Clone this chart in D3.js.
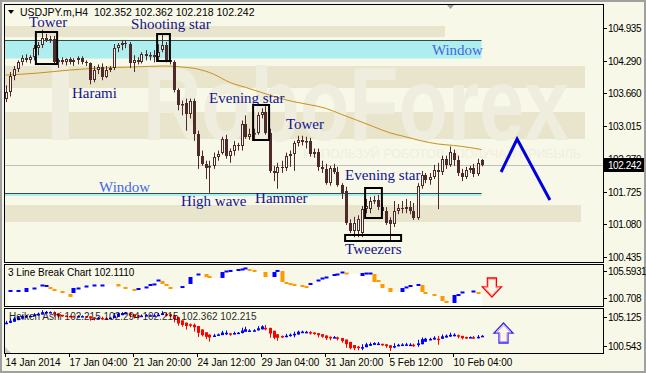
<!DOCTYPE html>
<html><head><meta charset="utf-8">
<script src="https://cdn.jsdelivr.net/npm/d3@7"></script>
<style>body{margin:0;background:#f8f8e8;}svg{display:block;}</style>
</head><body><svg id="c" width="646" height="373"></svg>
<script>
// ---------------- DATA ----------------
const symbol = "USDJPY.m,H4";
const headerValues = ["102.352", "102.362", "102.218", "102.242"];
const opens = [103.55,103.67,103.99,104.13,104.26,104.34,104.30,104.36,104.54,104.60,104.74,104.70,104.72,104.26,104.30,104.26,104.32,104.26,104.30,104.34,
104.26,104.24,103.91,104.11,104.17,103.97,104.11,104.15,104.54,104.60,104.64,104.62,104.24,104.30,104.26,104.42,104.38,104.40,104.36,104.50,
104.60,104.30,104.26,103.71,103.42,103.47,103.24,103.51,102.86,102.43,102.27,102.21,102.23,102.41,102.49,102.76,102.43,102.53,102.63,102.61,
103.06,102.80,102.86,102.88,103.22,103.28,102.88,102.13,102.09,102.21,102.19,102.43,102.47,102.68,102.74,102.70,102.72,102.47,102.51,102.21,
102.17,101.89,102.19,102.11,101.86,101.74,101.11,100.95,100.95,100.91,101.38,101.38,101.54,101.56,101.42,101.34,101.17,101.09,101.34,101.40,
101.38,101.42,101.34,101.20,101.84,102.05,101.95,102.01,102.15,102.11,102.37,102.25,102.49,102.35,102.09,102.01,102.15,102.19,102.07,102.352];
const highs = [103.81,104.07,104.19,104.30,104.40,104.42,104.40,104.60,104.66,104.90,104.82,104.78,104.78,104.34,104.36,104.34,104.36,104.34,104.38,104.38,
104.30,104.26,104.19,104.22,104.24,104.19,104.19,104.62,104.64,104.70,104.70,104.66,104.40,104.36,104.46,104.50,104.46,104.50,104.62,104.80,
104.66,104.34,104.30,103.75,103.51,103.55,103.55,103.55,102.92,102.53,102.33,102.33,102.49,102.53,102.80,102.84,102.57,102.72,102.68,103.12,
103.22,102.96,102.96,103.28,103.36,103.40,102.96,102.23,102.29,102.33,102.49,102.53,102.72,102.82,102.82,102.80,102.78,102.57,102.57,102.33,
102.27,102.23,102.27,102.21,101.89,101.82,101.18,101.23,101.26,101.44,101.58,101.62,101.64,101.66,101.48,101.42,101.22,101.54,101.48,101.54,
101.58,101.54,101.50,101.89,102.13,102.09,102.09,102.25,102.29,102.43,102.43,102.61,102.55,102.43,102.17,102.21,102.23,102.27,102.37,102.362];
const lows = [103.48,103.59,103.91,104.07,104.20,104.26,104.24,104.30,104.40,104.54,104.66,104.64,104.22,104.15,104.22,104.20,104.22,104.19,104.22,104.22,
104.19,103.83,103.87,104.03,103.91,103.95,104.07,104.11,104.46,104.50,104.54,104.15,104.07,104.22,104.24,104.30,104.30,104.26,104.30,104.46,
104.26,104.22,103.67,103.32,103.22,102.92,103.16,102.72,102.17,102.23,101.97,101.70,102.17,102.33,102.45,102.37,102.29,102.43,102.53,102.53,
102.76,102.74,102.72,102.84,103.16,102.84,102.09,101.93,101.78,102.09,102.13,102.21,102.13,102.61,102.63,102.57,102.41,102.39,102.13,102.09,
101.86,101.84,102.07,101.82,101.58,101.07,100.91,100.83,100.83,100.83,101.30,101.30,101.48,101.36,101.26,101.07,100.75,101.03,101.28,101.30,
101.30,101.28,101.17,101.17,101.78,101.89,101.86,101.97,101.38,102.05,102.17,102.21,102.23,102.03,101.93,101.97,102.09,102.01,102.03,102.218];
const closes = [103.67,103.99,104.13,104.26,104.34,104.30,104.36,104.54,104.60,104.74,104.70,104.72,104.26,104.30,104.26,104.32,104.26,104.30,104.34,104.26,
104.24,103.91,104.11,104.17,103.97,104.11,104.15,104.54,104.60,104.64,104.62,104.24,104.30,104.26,104.42,104.38,104.40,104.36,104.46,104.60,
104.30,104.26,103.71,103.42,103.45,103.24,103.51,102.86,102.43,102.27,102.19,102.23,102.41,102.47,102.76,102.43,102.53,102.63,102.61,103.06,
102.80,102.86,102.88,103.22,103.28,102.88,102.13,102.09,102.21,102.19,102.43,102.47,102.68,102.74,102.70,102.72,102.47,102.51,102.21,102.17,
101.89,102.19,102.11,101.86,101.70,101.11,100.95,101.11,101.18,101.38,101.44,101.54,101.56,101.42,101.34,101.11,101.09,101.34,101.40,101.38,
101.42,101.34,101.20,101.84,102.05,101.95,102.01,102.15,102.11,102.37,102.25,102.51,102.35,102.09,102.01,102.15,102.19,102.07,102.29,102.242];

// moving average (read at knots)
const maBars   = [0, 8, 16, 24, 32, 40, 44, 48, 52, 56, 60, 64, 68, 72, 76, 80, 84, 88, 92, 96, 100, 104, 108, 112, 116, 119];
const maValues = [104.01,104.05,104.11,104.15,104.17,104.19,104.17,104.13,104.03,103.87,103.77,103.67,103.57,103.49,103.43,103.36,103.24,103.12,103.00,102.88,102.80,102.72,102.66,102.63,102.59,102.55];

const priceTicks = [104.935, 104.290, 103.660, 103.015, 102.370, 101.725, 101.080, 100.435];
const lastPrice = 102.242;

const dateBars   = [0, 16, 32, 48, 64, 80, 96, 112];
const dateLabels = ["14 Jan 2014", "17 Jan 04:00", "21 Jan 20:00", "24 Jan 12:00", "29 Jan 04:00", "31 Jan 20:00", "5 Feb 12:00", "10 Feb 04:00"];

// chart patterns
const patternNames  = ["Tower", "Shooting star", "Harami", "Evening star", "Tower", "Window", "Window", "High wave", "Hammer", "Evening star", "Tweezers"];
const patternBars   = [5.9, 31.4, 16.6, 50.9, 70.1, 106.6, 23.4, 43.9, 62.4, 84.9, 84.9];
const patternPrices = [104.955, 104.915, 103.561, 103.463, 102.953, 104.405, 101.717, 101.442, 101.501, 101.952, 100.50];
const boxBarFrom = [7.6, 37.9, 61.9, 89.9, 84.9];
const boxBarTo   = [12.9, 41.1, 65.9, 94.1, 98.9];
const boxHigh    = [104.856, 104.817, 103.424, 101.795, 100.873];
const boxLow     = [104.228, 104.287, 102.737, 101.206, 100.755];
// gap zones ("Window")
const windowTop    = [104.699, 101.697];
const windowBottom = [104.336, 101.638];
const windowEndBar = 119;
// forecast zig-zag
const forecastBars   = [123.9, 127.9, 136.1];
const forecastPrices = [102.109, 102.757, 101.560];

// 3 Line Break
const lbTitle = "3 Line Break Chart 102.1110";
const lbRange = [100.708, 105.5931];
const lbAxisLabels = ["105.5931", "100.708"];
const lbBars   = [1,3,5,7,9,10,11,12,14,16,17,18,20,22,24,28,30,32,33,35,36,37,38,39,40,41,44,46,48,50,51,54,55,56,58,59,60,61,62,65,67,68,69,70,71,72,74,75,76,78,79,80,82,83,84,85,89,90,91,92,93,94,96,99,100,101,103,104,105,107,109,110,112,113,114,117,118];
const lbOpens  = [102.34,102.45,102.34,102.69,103.09,103.09,102.92,102.69,102.45,102.10,102.22,102.69,102.92,103.09,103.09,103.27,102.92,102.69,102.57,102.80,103.03,103.15,103.67,103.62,103.27,102.92,102.80,103.27,104.31,104.43,104.20,103.97,104.72,104.78,104.90,104.95,105.07,105.01,104.90,104.66,104.08,104.78,104.78,103.50,103.38,103.27,103.15,103.03,103.21,103.67,103.91,104.02,104.31,104.37,104.60,104.60,104.20,104.55,104.49,104.43,103.73,103.27,102.80,102.34,102.86,103.03,103.15,103.15,102.34,102.10,101.87,101.29,101.06,101.99,102.28,102.40,102.34];
const lbCloses = [102.57,102.57,102.80,102.86,103.21,103.15,102.69,102.45,102.22,101.76,102.80,102.86,103.09,103.21,103.21,102.98,102.74,102.51,102.80,102.98,103.27,103.33,103.79,103.27,103.09,102.74,103.03,104.08,104.49,104.08,103.97,104.66,104.84,104.90,105.01,105.07,105.19,104.84,104.78,104.08,104.66,104.90,103.50,103.38,103.27,103.15,103.03,102.92,103.38,103.79,104.02,104.14,104.43,104.49,104.72,104.43,104.55,104.60,104.60,103.50,103.50,102.80,102.34,102.80,102.98,103.15,103.27,102.34,102.16,101.93,101.29,101.06,101.99,102.10,102.40,102.51,102.11];

// Heiken Ashi
const haTitle = "Heiken Ashi 102.215 102.294 102.215 102.362 102.215";
const haRange = [100.543, 105.125];
const haAxisLabels = ["105.125", "100.543"];
const watermark = "RoboForex";
const slogan = "ИСПОЛЬЗУЙ РОБОТОВ - ПОЛУЧАЙ ПРИБЫЛЬ";

// ---------------- LAYOUT ----------------
const W = 646, H = 373;
const L = 4, R = 603, mT = 4, mB = 262, s1T = 264, s1B = 306, s2T = 308, s2B = 353;
const FONT = "'Liberation Sans', Arial, sans-serif";
const SERIF = "'Liberation Serif', 'Times New Roman', serif";
const DARK = "#4e2a2a", CREAM = "#f8f8e8";

const svg = d3.select("#c");
const x  = d3.scaleLinear().domain([0, 119]).range([5.5, 481.5]);
const y  = d3.scaleLinear().domain([100.435, 104.935]).range([257.3, 28]);
const y1 = d3.scaleLinear().domain(lbRange).range([s1B, s1T]);
const y2 = d3.scaleLinear().domain(haRange).range([s2B, s2T]);

svg.append("rect").attr("width", W).attr("height", H).attr("fill", CREAM);
svg.append("rect").attr("x", 1).attr("y", 1).attr("width", W - 2).attr("height", H - 2)
  .attr("fill", "none").attr("stroke", "#a0a0a0").attr("stroke-width", 2);

const defs = svg.append("defs");
defs.append("clipPath").attr("id", "cm").append("rect").attr("x", L + 1).attr("y", mT + 1).attr("width", R - L - 1).attr("height", mB - mT - 1);
defs.append("clipPath").attr("id", "c1").append("rect").attr("x", L + 1).attr("y", s1T + 1).attr("width", R - L - 1).attr("height", s1B - s1T - 1);
defs.append("clipPath").attr("id", "c2").append("rect").attr("x", L + 1).attr("y", s2T + 1).attr("width", R - L - 1).attr("height", s2B - s2T - 1);

// ---------------- MAIN PANEL ----------------
const gm = svg.append("g").attr("clip-path", "url(#cm)");
// watermark background bands
[[26, 37, 445], [66, 88, 585], [112, 139, 585], [205, 222, 581]].forEach(b => {
  gm.append("rect").attr("x", L).attr("y", b[0]).attr("width", b[2] - L).attr("height", b[1] - b[0]).attr("fill", "#e8e5cc");
});
gm.append("rect").attr("x", 52).attr("y", 60).attr("width", 17).attr("height", 80).attr("fill", "#efeddd");
gm.append("text").attr("x", 143).attr("y", 140).attr("font-family", FONT).attr("font-weight", "bold")
  .attr("font-size", 104).attr("textLength", 426).attr("lengthAdjust", "spacingAndGlyphs")
  .attr("fill", "#efeddd").text(watermark);
gm.append("text").attr("x", 303).attr("y", 158).attr("font-family", FONT).attr("font-size", 12)
  .attr("textLength", 278).attr("lengthAdjust", "spacingAndGlyphs").attr("fill", "#efeee0").text(slogan);

// windows
windowTop.forEach((t, k) => {
  gm.append("rect").attr("x", L).attr("y", y(t)).attr("width", x(windowEndBar) - L)
    .attr("height", y(windowBottom[k]) - y(t)).attr("fill", "#afeeee");
  gm.append("line").attr("x1", L).attr("x2", x(windowEndBar)).attr("y1", Math.round(y(t)) + 0.5).attr("y2", Math.round(y(t)) + 0.5)
    .attr("stroke", "#2f4f4f").attr("stroke-width", 1.2);
});
// last price line
gm.append("line").attr("x1", L).attr("x2", R).attr("y1", Math.round(y(lastPrice)) + 0.5).attr("y2", Math.round(y(lastPrice)) + 0.5)
  .attr("stroke", "#c0c0c0").attr("stroke-width", 1);

// moving average
gm.append("path").datum(maBars.map((b, k) => [b, maValues[k]]))
  .attr("d", d3.line().x(d => x(d[0])).y(d => y(d[1])).curve(d3.curveMonotoneX))
  .attr("fill", "none").attr("stroke", "#c8901a").attr("stroke-width", 1);

// candles
const candles = closes.map((c, i) => ({ i, o: opens[i], h: highs[i], l: lows[i], c }));
const cg = gm.append("g");
candles.forEach(d => {
  const cx = Math.round(x(d.i));
  cg.append("line").attr("x1", cx + 0.5).attr("x2", cx + 0.5).attr("y1", y(d.h)).attr("y2", y(d.l)).attr("stroke", DARK).attr("stroke-width", 1);
  const top = Math.round(y(Math.max(d.o, d.c))), bot = Math.round(y(Math.min(d.o, d.c)));
  const h = Math.max(1, bot - top);
  if (d.c >= d.o) {
    cg.append("rect").attr("x", cx - 0.5).attr("y", top + 0.5).attr("width", 2).attr("height", Math.max(0.5, h - 1))
      .attr("fill", CREAM).attr("stroke", DARK).attr("stroke-width", 1);
  } else {
    cg.append("rect").attr("x", cx - 1).attr("y", top).attr("width", 3).attr("height", h).attr("fill", DARK);
  }
});

// pattern boxes
boxBarFrom.forEach((b, k) => {
  gm.append("rect").attr("x", x(b)).attr("y", y(boxHigh[k])).attr("width", x(boxBarTo[k]) - x(b))
    .attr("height", y(boxLow[k]) - y(boxHigh[k])).attr("fill", "none").attr("stroke", "#000").attr("stroke-width", 2);
});
// pattern labels
patternNames.forEach((n, k) => {
  gm.append("text").attr("x", x(patternBars[k])).attr("y", y(patternPrices[k]))
    .attr("font-family", SERIF).attr("font-size", 15)
    .attr("fill", n === "Window" ? "#4169e1" : "#14148a").text(n);
});
// forecast zig-zag
svg.append("path").datum(forecastBars.map((b, k) => [b, forecastPrices[k]]))
  .attr("d", d3.line().x(d => x(d[0])).y(d => y(d[1])))
  .attr("fill", "none").attr("stroke", "#0000dd").attr("stroke-width", 3).attr("stroke-linejoin", "miter");

// header
svg.append("path").attr("d", "M8,10 L14,10 L11,14 Z").attr("fill", "#000");
svg.append("text").attr("x", 20).attr("y", 16).attr("font-family", FONT).attr("font-size", 10.5)
  .style("white-space", "pre").attr("fill", "#000").text(symbol + "  " + headerValues.join(" "));
svg.append("path").attr("d", "M447,5 L454,5 L450.5,9 Z").attr("fill", "#a0a0a0");

// ---------------- 3 LINE BREAK ----------------
const g1 = svg.append("g").attr("clip-path", "url(#c1)");
const lbPts = lbBars.map((b, k) => [b, lbCloses[k]]);
lbPts.push([119.6, lbCloses[lbCloses.length - 1]]);
g1.append("path").datum(lbPts)
  .attr("d", d3.area().x(d => x(d[0]) - 2).y0(s1B).y1(d => y1(d[1])).curve(d3.curveStepAfter))
  .attr("fill", "#ffffff");
lbBars.forEach((b, k) => {
  const o = lbOpens[k], c = lbCloses[k];
  const top = y1(Math.max(o, c)), bot = y1(Math.min(o, c));
  const h = Math.max(2, bot - top);
  g1.append("rect").attr("x", Math.round(x(b)) - 1.5).attr("y", top).attr("width", 4).attr("height", h)
    .attr("fill", c > o ? "#0000ff" : "#ff9900");
});
svg.append("text").attr("x", 8).attr("y", 276).attr("font-family", FONT).attr("font-size", 10).attr("fill", "#000").text(lbTitle);

// ---------------- HEIKEN ASHI ----------------
const g2 = svg.append("g").attr("clip-path", "url(#c2)");
let prevO, prevC;
candles.forEach((d, i) => {
  const hc = (d.o + d.h + d.l + d.c) / 4;
  const ho = i === 0 ? (d.o + d.c) / 2 : (prevO + prevC) / 2;
  const hh = Math.max(d.h, ho, hc), hl = Math.min(d.l, ho, hc);
  prevO = ho; prevC = hc;
  const col = hc >= ho ? "#0000ff" : "#ff0000";
  const cx = Math.round(x(i));
  g2.append("line").attr("x1", cx + 0.5).attr("x2", cx + 0.5).attr("y1", y2(hh)).attr("y2", y2(hl)).attr("stroke", col).attr("stroke-width", 1);
  const top = y2(Math.max(ho, hc)), bot = y2(Math.min(ho, hc));
  g2.append("rect").attr("x", cx - 1).attr("y", top).attr("width", 3).attr("height", Math.max(1.5, bot - top)).attr("fill", col);
});
svg.append("text").attr("x", 9).attr("y", 320).attr("font-family", FONT).attr("font-size", 10).attr("fill", "#000").attr("opacity", 0.85).text(haTitle);
svg.append("path").attr("d", `M${L + 1},${s2B} L${L + 1},${s2B - 6} L${L + 7},${s2B} Z`).attr("fill", "#c8c8c8");

// arrows in indicator panels
function arrowPath(cx, tip, base, dir, s) {
  const sw = 4.5 * s, hw = 9.5 * s, hl = 10 * s;
  const neck = tip + dir * hl;
  return `M${cx},${tip} L${cx + hw},${neck} L${cx + sw},${neck} L${cx + sw},${base} L${cx - sw},${base} L${cx - sw},${neck} L${cx - hw},${neck} Z`;
}
const ax1 = x(121.6), ax2 = x(124.5);
svg.append("path").attr("d", arrowPath(ax1, 297, 278, -1, 1)).attr("fill", "none").attr("stroke", "#ff0000").attr("stroke-width", 1.3);
svg.append("path").attr("d", arrowPath(ax1, 295, 279.5, -1, 0.78)).attr("fill", "none").attr("stroke", "#ffb0b0").attr("stroke-width", 1);
svg.append("path").attr("d", arrowPath(ax2, 323, 343, 1, 1)).attr("fill", "none").attr("stroke", "#2a2aff").attr("stroke-width", 1.3);
svg.append("path").attr("d", arrowPath(ax2, 325, 341.5, 1, 0.78)).attr("fill", "none").attr("stroke", "#d090e8").attr("stroke-width", 1);

// ---------------- FRAMES & AXES ----------------
[[mT, mB], [s1T, s1B], [s2T, s2B]].forEach(p => {
  svg.append("rect").attr("x", L + 0.5).attr("y", p[0] + 0.5).attr("width", R - L).attr("height", p[1] - p[0])
    .attr("fill", "none").attr("stroke", "#000").attr("stroke-width", 1);
});
function axisText(xx, yy, t, col) {
  return svg.append("text").attr("x", xx).attr("y", yy).attr("font-family", FONT).attr("font-size", 10)
    .attr("letter-spacing", -0.45).attr("fill", col || "#000").text(t);
}
// price axis
priceTicks.forEach(t => {
  const yy = Math.round(y(t)) + 0.5;
  svg.append("line").attr("x1", R).attr("x2", R + 4).attr("y1", yy).attr("y2", yy).attr("stroke", "#000");
  axisText(608, yy + 3.5, t.toFixed(3));
});
const ly = y(lastPrice);
svg.append("rect").attr("x", R + 1).attr("y", Math.round(ly) - 7).attr("width", 40).attr("height", 14).attr("fill", "#000");
axisText(608, Math.round(ly) + 4, lastPrice.toFixed(3), "#fff");
// indicator axes (labels drawn just inside the window edges)
[[y1, lbRange, lbAxisLabels, 7, -8], [y2, haRange, haAxisLabels, 9, -7]].forEach(a => {
  const [sc, rg, texts, offTop, offBot] = a;
  const ys = [sc(rg[1]) + offTop, sc(rg[0]) + offBot];
  ys.forEach((yy, k) => {
    svg.append("line").attr("x1", R).attr("x2", R + 4).attr("y1", Math.round(yy) + 0.5).attr("y2", Math.round(yy) + 0.5).attr("stroke", "#000");
    axisText(608, yy + 3.5, texts[k]);
  });
});
// date axis
dateBars.forEach((b, k) => {
  const xx = Math.round(x(b)) - 0.5;
  svg.append("line").attr("x1", xx).attr("x2", xx).attr("y1", s2B).attr("y2", s2B + 4).attr("stroke", "#000");
  svg.append("text").attr("x", xx).attr("y", 366).attr("font-family", FONT).attr("font-size", 10).attr("fill", "#000").text(dateLabels[k]);
});
</script></body></html>
